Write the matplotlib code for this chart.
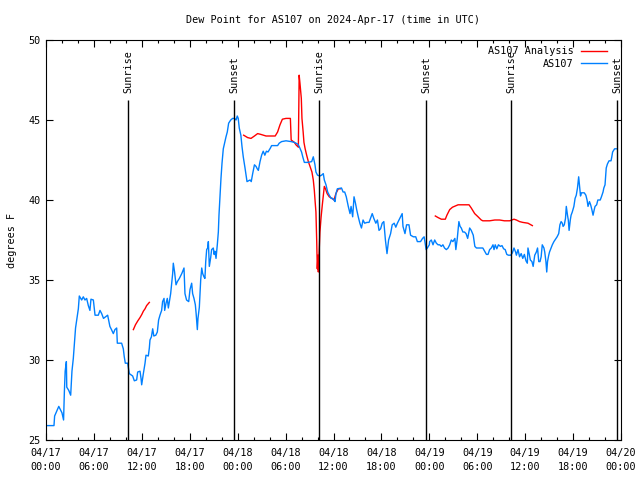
import numpy as np
import pandas as pd
import matplotlib
matplotlib.use('Agg')
import matplotlib.pyplot as plt
import matplotlib.dates as mdates

plt.rcParams['font.family'] = ['DejaVu Sans Mono']
plt.rcParams['font.size'] = 7.3

# Data: hours since 2024-04-17 00:00 UTC and dew point (F)
obs_hours = [0.0, 1.0, 1.08, 1.6, 2.0, 2.2, 2.3, 2.4, 2.55, 2.6, 2.85, 3.09, 3.25, 3.42, 3.55, 3.7, 3.88,
             4.05, 4.17, 4.47, 4.67, 4.88, 5.09, 5.3, 5.5, 5.63, 5.93, 6.14, 6.55, 6.76, 6.97, 7.2, 7.45,
             7.72, 8.0, 8.2, 8.43, 8.63, 8.85, 8.93, 9.47, 9.68, 9.8, 9.93, 10.23, 10.43, 10.85, 11.06,
             11.35, 11.48, 11.77, 11.9, 11.98, 12.19, 12.4, 12.52, 12.81, 12.94, 13.02, 13.2, 13.36, 13.5,
             13.75, 13.94, 14.1, 14.27, 14.48, 14.6, 14.78, 14.86, 15.03, 15.19, 15.32, 15.4, 15.61, 15.86,
             15.94, 16.1, 16.28, 16.45, 16.7, 17.0, 17.28, 17.4, 17.6, 17.87, 18.03, 18.24, 18.36, 18.53,
             18.7, 18.8, 18.95, 19.03, 19.2, 19.37, 19.5, 19.62, 19.78, 19.9, 20.0, 20.12, 20.24, 20.33,
             20.45, 20.62, 20.74, 20.95, 21.05, 21.15, 21.29, 21.45, 21.58, 21.66, 21.79, 21.91, 22.04,
             22.2, 22.4, 22.54, 22.7, 22.87, 23.13, 23.37, 23.6, 23.8, 23.95, 24.07, 24.2, 24.4, 24.54,
             24.7, 24.92, 25.17, 25.35, 25.55, 25.7, 25.88, 26.1, 26.3, 26.45, 26.59, 26.8, 27.0, 27.2,
             27.4, 27.6, 27.8, 28.1, 28.25, 29.0, 29.2, 29.5, 30.05, 30.7, 31.1, 31.5, 31.7, 32.0, 32.15,
             32.35, 32.77, 33.27, 33.47, 33.68, 33.8, 34.0, 34.3, 34.5, 34.72, 34.85, 35.06, 35.27, 35.47,
             35.7, 35.9, 36.06, 36.19, 36.31, 36.48, 37.0, 37.2, 37.4, 37.6, 37.85, 38.07, 38.2, 38.4,
             38.57, 38.75, 38.9, 39.1, 39.3, 39.5, 39.7, 39.9, 40.2, 40.45, 40.7, 40.85, 41.05, 41.3, 41.5,
             41.7, 41.9, 42.1, 42.3, 42.5, 42.7, 42.9, 43.15, 43.35, 43.6, 43.8, 44.0, 44.2, 44.4, 44.6,
             44.7, 44.95, 45.15, 45.45, 45.65, 46.0, 46.3, 46.5, 46.9, 47.15, 47.35, 47.6, 47.75, 48.0,
             48.04, 48.25, 48.46, 48.67, 48.88, 49.09, 49.3, 49.5, 49.7, 49.9, 50.13, 50.35, 50.55, 50.75,
             50.95, 51.2, 51.32, 51.5, 51.7, 51.85, 52.0, 52.2, 52.4, 52.6, 52.8, 53.05, 53.25, 53.5, 53.7,
             53.9, 54.3, 54.7, 54.93, 55.15, 55.35, 55.55, 55.76, 55.97, 56.1, 56.25, 56.45, 56.65, 56.9,
             57.1, 57.3, 57.5, 57.7, 57.9, 58.2, 58.4, 58.6, 58.8, 58.9, 59.1, 59.3, 59.5, 59.7, 59.9,
             60.1, 60.27, 60.35, 60.5, 60.65, 60.85, 61.0, 61.2, 61.4, 61.55, 61.7, 61.86, 62.0, 62.14,
             62.35, 62.45, 62.6, 62.7, 62.8, 62.95, 63.05, 63.2, 63.4, 63.6, 63.8, 64.0, 64.2, 64.35, 64.5,
             64.65, 64.75, 64.9, 65.05, 65.15, 65.3, 65.4, 65.5, 65.65, 65.75, 65.9, 66.1, 66.25, 66.4,
             66.55, 66.7, 66.8, 66.93, 67.05, 67.2, 67.4, 67.6, 67.75, 67.87, 68.05, 68.2, 68.35, 68.5,
             68.65, 68.75, 68.95, 69.1, 69.4, 69.55, 69.75, 69.85, 70.0, 70.15, 70.3, 70.5, 70.75, 70.85,
             70.95, 71.2, 71.4]
obs_dewpt = [25.9, 25.9, 26.5, 27.1, 26.7, 26.25, 28.0, 29.3, 29.9, 28.3, 28.1, 27.8, 29.3, 30.1, 31.0, 32.0, 32.6,
             33.2, 34.0, 33.75, 33.95, 33.75, 33.85, 33.4, 33.1, 33.8, 33.75, 32.8, 32.8, 33.1, 32.9, 32.6, 32.7,
             32.8, 32.1, 31.9, 31.65, 31.9, 32.0, 31.05, 31.05, 30.7, 30.2, 29.8, 29.8, 29.15, 29.0, 28.7,
             28.75, 29.25, 29.3, 28.85, 28.45, 29.15, 29.8, 30.3, 30.25, 30.75, 31.25, 31.45, 31.95, 31.5,
             31.55, 31.75, 32.5, 32.8, 33.1, 33.65, 33.85, 33.1, 33.55, 33.85, 33.25, 33.5, 34.15, 35.4,
             36.05, 35.5, 34.7, 34.9, 35.1, 35.4, 35.75, 34.15, 33.75, 33.65, 34.4, 34.8, 34.15, 33.85,
             33.45, 32.9, 31.9, 32.6, 33.3, 35.0, 35.75, 35.4, 35.2, 35.1, 36.15, 36.9, 37.0, 37.4,
             35.85, 36.4, 36.9, 37.0, 36.6, 36.8, 36.35, 37.2, 38.0, 39.05, 40.3, 41.35, 42.3,
             43.2, 43.65, 43.95, 44.25, 44.8, 45.0, 45.1, 45.1, 45.0, 45.25, 45.1, 44.5, 44.05, 43.35,
             42.7, 42.0, 41.15, 41.2, 41.25, 41.15, 41.65, 42.2, 42.1, 41.95, 41.85, 42.4, 42.8, 43.05,
             42.8, 43.05, 43.0, 43.25, 43.4, 43.4, 43.55, 43.65, 43.7, 43.65, 43.6, 43.5, 43.35, 43.0, 42.7,
             42.35, 42.35, 42.4, 42.7, 42.2, 41.75, 41.55, 41.5, 41.55, 41.65, 41.25, 40.95, 40.5, 40.3,
             40.1, 40.1, 40.0, 39.9, 40.4, 40.7, 40.75, 40.5, 40.5, 40.2, 39.6, 39.15, 39.6, 38.95,
             40.2, 39.8, 39.4, 38.95, 38.55, 38.25, 38.75, 38.55, 38.6, 38.6, 38.95, 39.15, 38.85, 38.55, 38.75,
             38.1, 38.2, 38.55, 38.65, 37.5, 36.65, 37.5, 37.9, 38.45, 38.55, 38.3, 38.55, 38.75, 38.95, 39.15,
             38.35, 37.9, 38.45, 38.45, 37.8, 37.7, 37.7, 37.4, 37.4, 37.6, 37.7, 36.9, 37.0, 37.2,
             37.4, 37.5, 37.2, 37.5, 37.3, 37.2, 37.2, 37.1, 37.2, 37.0, 36.9, 37.0, 37.2, 37.5,
             37.4, 37.6, 36.9, 37.6, 38.65, 38.35, 38.25, 38.0, 38.0, 37.9, 37.6, 38.25, 38.1, 37.8, 37.1,
             37.0, 37.0, 37.0, 36.8, 36.6, 36.6, 36.9, 37.0, 37.2, 36.9, 37.2, 36.95, 37.2, 37.1,
             37.15, 36.95, 36.9, 36.6, 36.55, 36.55, 36.7, 37.0, 36.75, 36.55, 36.9, 36.45, 36.65, 36.35, 36.6,
             36.2, 36.05, 37.0, 36.65, 36.25, 36.15, 35.85, 36.55, 36.75, 37.0, 36.15, 36.15, 36.45, 37.2,
             37.0, 36.75, 36.15, 35.5, 36.15, 36.55, 36.75, 36.95, 37.2, 37.4, 37.55, 37.7, 37.9, 38.45, 38.65,
             38.55, 38.35, 38.45, 38.85, 39.6, 39.05, 38.75, 38.1, 38.75, 39.05, 39.25, 39.6, 40.1, 40.3,
             40.75, 41.45, 40.95, 40.25, 40.45, 40.45, 40.45, 40.3, 40.0, 39.6, 39.9, 39.7, 39.4, 39.05,
             39.4, 39.6, 39.7, 40.0, 40.0, 40.2, 40.5, 40.75, 40.95, 42.0, 42.25, 42.45, 42.45, 42.7,
             43.0, 43.2, 43.2]

# Analysis series (gaps as NaN)
ana_hours = [10.94, 11.2, 11.5, 11.77, 12.0, 12.19, 12.4, 12.6, 12.94, 13.0,
             24.75, 25.25, 25.67, 26.1, 26.5, 26.9, 27.55, 28.1, 28.7, 29.0, 29.3, 29.6, 30.05, 30.6,
             30.7, 31.1, 31.3, 31.6, 31.7, 31.8, 31.97, 32.05, 32.2, 32.3, 32.45, 32.64, 32.85, 33.06,
             33.3, 33.47, 33.6, 33.7, 33.8, 33.9, 33.97, 34.06, 34.1, 34.3, 34.45, 34.6, 34.85, 35.0,
             35.2, 35.47, 35.8, 36.06, 36.3, 36.6, 36.85, 37.0,
             48.75, 49.1, 49.5, 50.0, 50.2, 50.55, 50.9, 51.6, 52.3, 52.97, 53.25, 53.68, 54.1, 54.5,
             54.7, 55.55, 56.2, 56.8, 57.4, 58.06, 58.6, 58.9, 59.3, 59.7, 60.35, 60.9]
ana_dewpt = [31.9, 32.2, 32.45, 32.65, 32.85, 33.05, 33.2, 33.4, 33.6, np.nan,
             44.05, 43.9, 43.85, 44.0, 44.15, 44.1, 44.0, 44.0, 44.0, 44.25, 44.7, 45.05, 45.1, 45.1,
             43.75, 43.6, 43.45, 43.3, 47.8, 47.3, 46.35, 45.1, 44.25, 43.6, 43.2, 42.8, 42.4, 42.1,
             41.75, 41.25, 40.6, 39.9, 39.25, 37.4, 35.7, 36.55, 35.5, 38.0, 38.95, 39.7, 40.85, 40.7,
             40.4, 40.2, 40.1, 40.0, 40.4, 40.7, 40.7, np.nan,
             39.0, 38.9, 38.8, 38.8, 39.05, 39.4, 39.55, 39.7, 39.7, 39.7, 39.5, 39.15, 38.95, 38.75,
             38.7, 38.7, 38.75, 38.75, 38.7, 38.7, 38.8, 38.75, 38.65, 38.6, 38.55, 38.4]

sun_hours = [10.31, 23.58, 34.22, 47.62, 58.27, 71.54]
sun_labels = ['Sunrise', 'Sunset', 'Sunrise', 'Sunset', 'Sunrise', 'Sunset']

start = pd.Timestamp('2024-04-17 00:00')
obs_t = start + pd.to_timedelta(obs_hours, unit='h')
ana_t = start + pd.to_timedelta(ana_hours, unit='h')
sun_t = start + pd.to_timedelta(sun_hours, unit='h')

fig = plt.figure(figsize=(6.4, 4.8), dpi=100)
ax = fig.add_axes([46 / 640, 40 / 480, 575 / 640, 400 / 480])

ax.plot(ana_t, ana_dewpt, color='#ff0000', lw=1, label='AS107 Analysis')
ax.plot(obs_t, obs_dewpt, color='#0080ff', lw=1, label='AS107')

ax.vlines(sun_t, 25, 46.25, color='black', lw=1)
for t, lab in zip(sun_t, sun_labels):
    ax.text(t, 46.7, lab, rotation=90, ha='center', va='bottom')

ax.set_xlim(start, start + pd.Timedelta(hours=72))
ax.set_ylim(25, 50)
ax.set_yticks([25, 30, 35, 40, 45, 50])
ax.xaxis.set_major_locator(mdates.HourLocator(byhour=[0, 6, 12, 18]))
ax.xaxis.set_major_formatter(mdates.DateFormatter('%m/%d\n%H:%M'))
ax.xaxis.set_minor_locator(mdates.HourLocator(interval=2))
ax.tick_params(which='both', direction='in', top=True, right=True, width=0.8)
ax.tick_params(which='major', length=5, pad=4)
ax.tick_params(axis='x', which='major', pad=6)
ax.tick_params(which='minor', length=2.5)
for s in ax.spines.values():
    s.set_linewidth(0.8)

ax.set_title('Dew Point for AS107 on 2024-Apr-17 (time in UTC)', fontsize=7.3, pad=12)
ax.set_ylabel('degrees F', labelpad=8)

ax.legend(loc='upper right', bbox_to_anchor=(1 - 7 / 575, 1 + 1 / 400), frameon=False,
          markerfirst=False, handlelength=2.6, labelspacing=0.25, borderaxespad=0.3,
          handletextpad=0.7)

fig.canvas.draw()
for lbl in ax.get_xticklabels():
    lbl.set_linespacing(1.45)

fig.savefig('out.png', dpi=100)
